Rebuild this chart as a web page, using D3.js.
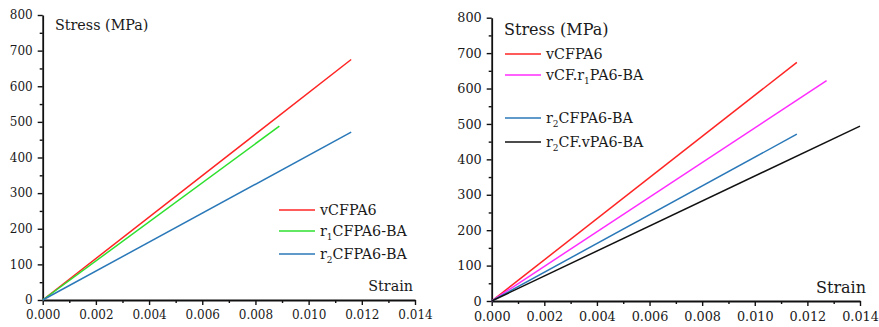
<!DOCTYPE html>
<html>
<head>
<meta charset="utf-8">
<script src="https://cdn.jsdelivr.net/npm/d3@7"></script>
<style>
  body { margin: 0; background: #fff; }
  svg { display: block; }
  text { font-family: "DejaVu Serif", serif; fill: #1a1a1a; }
</style>
</head>
<body>
<svg id="chart" width="879" height="327"></svg>
<script>
// data: each series is a straight run from the origin
const strainTicks = [0, 0.002, 0.004, 0.006, 0.008, 0.010, 0.012, 0.014];
const stressTicks = [0, 100, 200, 300, 400, 500, 600, 700, 800];

const leftNames = ['vCFPA6', 'r1CFPA6-BA', 'r2CFPA6-BA'];
const leftStrain = [[0, 0.0116], [0, 0.0089], [0, 0.0116]];
const leftStress = [[0, 675], [0, 488], [0, 471]];

const rightNames = ['vCFPA6', 'vCF.r1PA6-BA', 'r2CFPA6-BA', 'r2CF.vPA6-BA'];
const rightStrain = [[0, 0.0116], [0, 0.01273], [0, 0.0116], [0, 0.014]];
const rightStress = [[0, 674], [0, 622], [0, 471], [0, 494]];

const colors = {
    'vCFPA6': '#ff2424',
    'r1CFPA6-BA': '#2ee02e',
    'r2CFPA6-BA': '#2a78b8',
    'vCF.r1PA6-BA': '#ff2cff',
    'r2CF.vPA6-BA': '#111111'
};

let svg = d3.select('#chart');

function drawPanel(opt) {
    let x = d3.scaleLinear().domain([0, 0.014]).range([opt.x0, opt.x1]);
    let y = d3.scaleLinear().domain([0, 800]).range([opt.y0, opt.y1]);
    let g = svg.append('g');

    // minor ticks
    g.append('g')
        .attr('transform', 'translate(0,' + opt.y0 + ')')
        .call(d3.axisBottom(x).tickValues(d3.range(0.001, 0.014, 0.002)).tickSize(3).tickFormat(''))
        .call(a => a.select('.domain').remove());
    g.append('g')
        .attr('transform', 'translate(' + opt.x0 + ',0)')
        .call(d3.axisLeft(y).tickValues(d3.range(50, 800, 100)).tickSize(3).tickFormat(''))
        .call(a => a.select('.domain').remove());

    let xAxis = g.append('g')
        .attr('transform', 'translate(0,' + opt.y0 + ')')
        .call(d3.axisBottom(x).tickValues(strainTicks).tickSize(5).tickSizeOuter(0)
            .tickPadding(opt.xPad).tickFormat(d3.format('.3f')));
    let yAxis = g.append('g')
        .attr('transform', 'translate(' + opt.x0 + ',0)')
        .call(d3.axisLeft(y).tickValues(stressTicks).tickSize(5).tickSizeOuter(0).tickPadding(5));

    [xAxis, yAxis].forEach(a => {
        a.selectAll('text').style('font-family', '"DejaVu Serif", serif')
            .style('font-size', opt.tickFont + 'px').attr('fill', '#1a1a1a');
        a.select('.domain').attr('stroke', '#111').attr('stroke-width', 1.8);
    });
    g.selectAll('.tick line').attr('stroke', '#111').attr('stroke-width', 1.4);

    let line = d3.line().x(d => x(d[0])).y(d => y(d[1]));
    opt.names.forEach((n, i) => {
        let pts = opt.strain[i].map((s, j) => [s, opt.stress[i][j]]);
        g.append('path').datum(pts)
            .attr('fill', 'none')
            .attr('stroke', colors[n])
            .attr('stroke-width', 1.5)
            .attr('d', line);
    });

    g.append('text')
        .attr('x', opt.stressLabel[0]).attr('y', opt.stressLabel[1])
        .style('font-size', opt.labelFont + 'px')
        .text('Stress (MPa)');
    g.append('text')
        .attr('x', opt.strainLabel[0]).attr('y', opt.strainLabel[1])
        .attr('text-anchor', 'end')
        .style('font-size', opt.labelFont + 'px')
        .text('Strain');

    // legend
    opt.names.forEach((n, i) => {
        let ly = opt.legendY[i];
        g.append('line')
            .attr('x1', opt.legendX).attr('x2', opt.legendX + 36)
            .attr('y1', ly).attr('y2', ly)
            .attr('stroke', colors[n]).attr('stroke-width', 1.5);
        let t = g.append('text')
            .attr('x', opt.legendX + 41).attr('y', ly + 5)
            .style('font-size', '14.3px');
        // digit after r is a subscript
        let m = n.match(/^(.*?r)([12])(.*)$/);
        if (m) {
            t.append('tspan').text(m[1]);
            t.append('tspan').attr('dy', 4).style('font-size', '9px').text(m[2]);
            t.append('tspan').attr('dy', -4).text(m[3]);
        } else {
            t.text(n);
        }
    });
}

drawPanel({
    x0: 42.7, x1: 415, y0: 300, y1: 15,
    names: leftNames, strain: leftStrain, stress: leftStress,
    tickFont: 12, labelFont: 14.3, xPad: 5,
    stressLabel: [55, 30], strainLabel: [413, 291],
    legendX: 279, legendY: [210, 231, 254]
});

drawPanel({
    x0: 491.7, x1: 860, y0: 301, y1: 17.7,
    names: rightNames, strain: rightStrain, stress: rightStress,
    tickFont: 12.8, labelFont: 16, xPad: 5.5,
    stressLabel: [504, 35], strainLabel: [866, 293],
    legendX: 505, legendY: [54, 75, 118, 142]
});
</script>
</body>
</html>
